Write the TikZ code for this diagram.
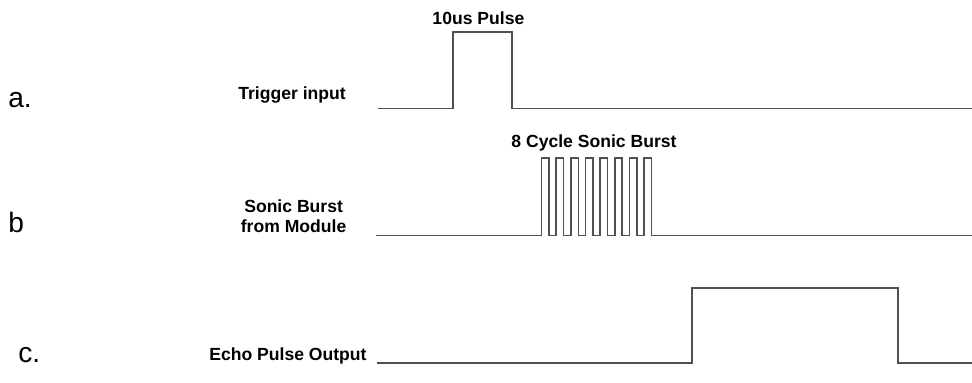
\documentclass[tikz,border=0pt]{standalone}
\usepackage{fontspec}
\setmainfont{Liberation Sans}
\usepackage{tikz}
\usetikzlibrary{positioning}
\definecolor{wavegray}{RGB}{80,80,80}

\begin{document}
\begin{tikzpicture}[
    wave/.style={draw=wavegray, line width=1.1pt},
    siglabel/.style={font=\fontsize{12.5}{14.5}\selectfont\bfseries, inner sep=0pt},
    rowletter/.style={font=\fontsize{20}{24}\selectfont, inner sep=0pt, anchor=base west}
]
    \useasboundingbox (0,0) rectangle (24.3,9.55);

    % Row letters
    \node[rowletter] (leta) at (0.2,6.85) {a.};
    \node[rowletter] (letb) at (0.2,3.73) {b};
    \node[rowletter] (letc) at (0.45,0.5) {c.};

    % Signal names
    \node[siglabel, anchor=base east] (trig) at (8.65,7.05) {Trigger input};
    \node[siglabel, align=center] (burst) at (7.34,4.15) {Sonic Burst\\from Module};
    \node[siglabel, anchor=base east] (echo) at (9.17,0.55) {Echo Pulse Output};

    % Trigger waveform
    \draw[wave] (9.45,6.84) -- (11.33,6.84) -- (11.33,8.75) -- (12.8,8.75)
        -- (12.8,6.84) -- (24.3,6.84);
    \node[siglabel] (pulse) at (11.96,9.1) {10us Pulse};

    % Sonic burst, 8 cycles
    \draw[wave] (9.4,3.66)
        \foreach \i in {0,...,7} {
            -- ({13.54+0.366*\i},3.66) -- ++(0,1.94) -- ++(0.185,0) -- ++(0,-1.94)
        } -- (24.3,3.66);
    \node[siglabel] (cycles) at (14.85,5.975) {8 Cycle Sonic Burst};

    % Echo pulse
    \draw[wave] (9.42,0.48) -- (17.3,0.48) -- (17.3,2.35) -- (22.45,2.35)
        -- (22.45,0.48) -- (24.3,0.48);
\end{tikzpicture}
\end{document}
